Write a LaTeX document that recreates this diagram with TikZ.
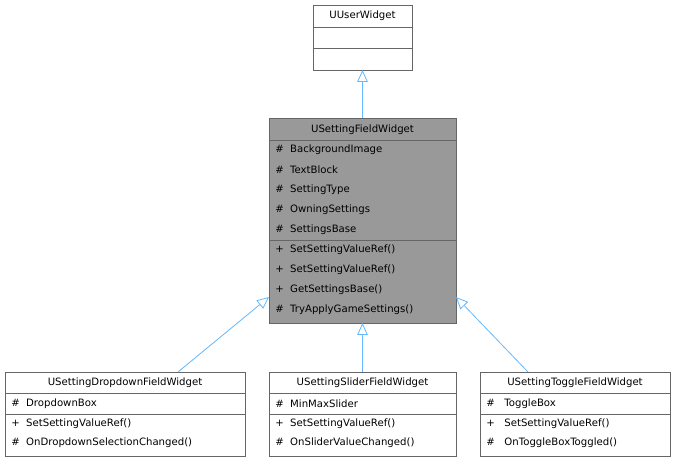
\documentclass[tikz,border=0pt]{standalone}
\usepackage{fontspec}
\setmainfont{DejaVu Sans}
\usetikzlibrary{arrows.meta}
\definecolor{edge}{HTML}{63B8FF}
\definecolor{bord}{HTML}{666666}
\begin{document}
\begin{tikzpicture}[x=0.75pt,y=-0.75pt,
  box/.style={draw=bord,line width=0.6pt},
  txt/.style={font=\fontsize{7.6}{9}\selectfont,inner sep=0pt,anchor=west},
  ttl/.style={font=\fontsize{7.6}{9}\selectfont,inner sep=0pt},
  inh/.style={draw=edge,line width=0.6pt,-{Triangle[open,length=9pt,width=8pt]}}]
\useasboundingbox (0,0) rectangle (675,463);
% UUserWidget
\draw[box,fill=white] (313,5) rectangle (412,70);
\draw[box] (313,27) -- (412,27) (313,48) -- (412,48);
\node[ttl] (uw) at (362.5,16) {UUserWidget};
\coordinate (uwb) at (362.5,70);
% Field widget
\draw[box,fill=black!40] (269,118) rectangle (456,323);
\draw[box] (269,140) -- (456,140) (269,240) -- (456,240);
\node[ttl] (fw) at (362.5,129.5) {USettingFieldWidget};
\foreach \t [count=\i] in {BackgroundImage,TextBlock,SettingType,OwningSettings,SettingsBase}
  \node[txt] at (275,130+20*\i) {\#\ \ \t};
\node[txt] at (275,250) {+\ \ SetSettingValueRef()};
\node[txt] at (275,270) {+\ \ SetSettingValueRef()};
\node[txt] at (275,290) {+\ \ GetSettingsBase()};
\node[txt] at (275,310) {\#\ \ TryApplyGameSettings()};
\coordinate (fwt) at (362.5,118);
\coordinate (fwb) at (362.5,323);
\coordinate (fwl) at (269,297);
\coordinate (fwr) at (456,297);
% Bottom boxes
\draw[box,fill=white] (5,372) rectangle (245,456);
\draw[box] (5,393) -- (245,393) (5,414) -- (245,414);
\node[ttl] (dd) at (125,383) {USettingDropdownFieldWidget};
\node[txt] at (11,404) {\#\ \ DropdownBox};
\node[txt] at (11,424) {+\ \ SetSettingValueRef()};
\node[txt] at (11,443) {\#\ \ OnDropdownSelectionChanged()};
\draw[box,fill=white] (269,372) rectangle (456,456);
\draw[box] (269,393) -- (456,393) (269,414) -- (456,414);
\node[ttl] (sl) at (362.5,383) {USettingSliderFieldWidget};
\node[txt] at (275,404) {\#\ \ MinMaxSlider};
\node[txt] at (275,424) {+\ \ SetSettingValueRef()};
\node[txt] at (275,443) {\#\ \ OnSliderValueChanged()};
\draw[box,fill=white] (480,372) rectangle (670,456);
\draw[box] (480,393) -- (670,393) (480,414) -- (670,414);
\node[ttl] (tg) at (575,383) {USettingToggleFieldWidget};
\node[txt] at (486,404) {\#\ \ \ ToggleBox};
\node[txt] at (486,424) {+\ \ \ SetSettingValueRef()};
\node[txt] at (486,443) {\#\ \ \ OnToggleBoxToggled()};
\coordinate (ddt) at (178,372);
\coordinate (slt) at (362.5,372);
\coordinate (tgt) at (528,372);
% edges
\draw[inh] (fwt) -- (uwb);
\draw[inh] (ddt) -- (fwl);
\draw[inh] (slt) -- (fwb);
\draw[inh] (tgt) -- (fwr);
\end{tikzpicture}
\end{document}
